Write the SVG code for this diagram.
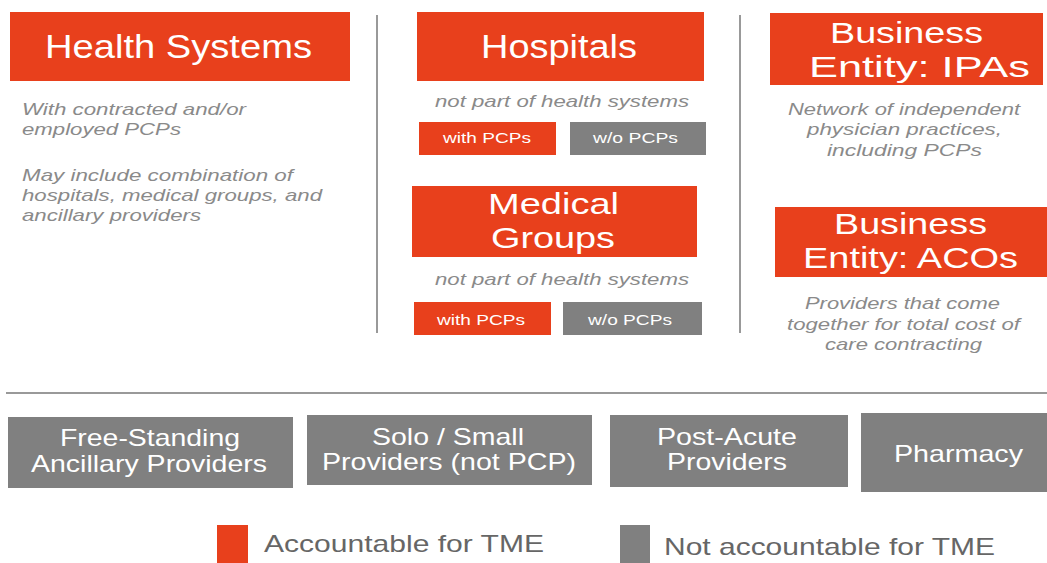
<svg xmlns="http://www.w3.org/2000/svg" width="1047" height="563" viewBox="0 0 1047 563">
<style>
.acc{fill:#E8401C}
.not{fill:#808080}
.t{font-family:"Liberation Sans",Arial,sans-serif;fill:#fff}
.big{font-size:33px}
.two{font-size:30px}
.btm{font-size:24px}
.sm{font-size:14px}
.d{font-family:"Liberation Sans",Arial,sans-serif;font-style:italic;font-size:17px;fill:#8a8a8a}
.leg{font-family:"Liberation Sans",Arial,sans-serif;font-size:24px;fill:#666}
.div{stroke:#999;stroke-width:2}
</style>
<rect width="1047" height="563" fill="#fff"/>
<g id="dividers">
<line class="div" x1="377" y1="15" x2="377" y2="333"/>
<line class="div" x1="740" y1="15" x2="740" y2="333"/>
<line class="div" x1="6" y1="393" x2="1047" y2="393"/>
</g>
<g id="health-systems">
<rect class="acc" x="10" y="12" width="340" height="69"/>
<text class="t big" x="45" y="58" textLength="267" lengthAdjust="spacingAndGlyphs">Health Systems</text>
<text class="d" x="22" y="115" textLength="224" lengthAdjust="spacingAndGlyphs">With contracted and/or</text>
<text class="d" x="22" y="135" textLength="159" lengthAdjust="spacingAndGlyphs">employed PCPs</text>
<text class="d" x="22" y="181" textLength="271" lengthAdjust="spacingAndGlyphs">May include combination of</text>
<text class="d" x="22" y="201" textLength="300" lengthAdjust="spacingAndGlyphs">hospitals, medical groups, and</text>
<text class="d" x="22" y="221" textLength="179" lengthAdjust="spacingAndGlyphs">ancillary providers</text>
</g>
<g id="hospitals">
<rect class="acc" x="417" y="12" width="287" height="69"/>
<text class="t big" x="481" y="58" textLength="156" lengthAdjust="spacingAndGlyphs">Hospitals</text>
<text class="d" x="435" y="107" textLength="254" lengthAdjust="spacingAndGlyphs">not part of health systems</text>
</g>
<g id="hospitals-with-pcps">
<rect class="acc" x="419" y="122" width="137" height="33"/>
<text class="t sm" x="443" y="143" textLength="88" lengthAdjust="spacingAndGlyphs">with PCPs</text>
</g>
<g id="hospitals-wo-pcps">
<rect class="not" x="570" y="122" width="136" height="33"/>
<text class="t sm" x="593" y="143" textLength="85" lengthAdjust="spacingAndGlyphs">w/o PCPs</text>
</g>
<g id="medical-groups">
<rect class="acc" x="412" y="186" width="285" height="71"/>
<text class="t two" x="488" y="214" textLength="131" lengthAdjust="spacingAndGlyphs">Medical</text>
<text class="t two" x="491" y="248" textLength="124" lengthAdjust="spacingAndGlyphs">Groups</text>
<text class="d" x="435" y="285" textLength="254" lengthAdjust="spacingAndGlyphs">not part of health systems</text>
</g>
<g id="medical-with-pcps">
<rect class="acc" x="414" y="302" width="137" height="33"/>
<text class="t sm" x="437" y="325" textLength="88" lengthAdjust="spacingAndGlyphs">with PCPs</text>
</g>
<g id="medical-wo-pcps">
<rect class="not" x="563" y="302" width="139" height="33"/>
<text class="t sm" x="588" y="325" textLength="84" lengthAdjust="spacingAndGlyphs">w/o PCPs</text>
</g>
<g id="ipas">
<rect class="acc" x="770" y="13" width="273" height="72"/>
<text class="t two" x="830" y="43" textLength="153" lengthAdjust="spacingAndGlyphs">Business</text>
<text class="t two" x="809" y="77" textLength="221" lengthAdjust="spacingAndGlyphs">Entity: IPAs</text>
<text class="d" x="788" y="115" textLength="232" lengthAdjust="spacingAndGlyphs">Network of independent</text>
<text class="d" x="807" y="135" textLength="195" lengthAdjust="spacingAndGlyphs">physician practices,</text>
<text class="d" x="827" y="156" textLength="155" lengthAdjust="spacingAndGlyphs">including PCPs</text>
</g>
<g id="acos">
<rect class="acc" x="775" y="207" width="272" height="70"/>
<text class="t two" x="834" y="234" textLength="153" lengthAdjust="spacingAndGlyphs">Business</text>
<text class="t two" x="803" y="268" textLength="215" lengthAdjust="spacingAndGlyphs">Entity: ACOs</text>
<text class="d" x="805" y="309" textLength="195" lengthAdjust="spacingAndGlyphs">Providers that come</text>
<text class="d" x="787" y="330" textLength="233" lengthAdjust="spacingAndGlyphs">together for total cost of</text>
<text class="d" x="825" y="350" textLength="157" lengthAdjust="spacingAndGlyphs">care contracting</text>
</g>
<g id="free-standing">
<rect class="not" x="8" y="417" width="285" height="71"/>
<text class="t btm" x="60" y="446" textLength="180" lengthAdjust="spacingAndGlyphs">Free-Standing</text>
<text class="t btm" x="31" y="472" textLength="236" lengthAdjust="spacingAndGlyphs">Ancillary Providers</text>
</g>
<g id="solo-small">
<rect class="not" x="307" y="415" width="285" height="70"/>
<text class="t btm" x="372" y="445" textLength="152" lengthAdjust="spacingAndGlyphs">Solo / Small</text>
<text class="t btm" x="322" y="470" textLength="254" lengthAdjust="spacingAndGlyphs">Providers (not PCP)</text>
</g>
<g id="post-acute">
<rect class="not" x="610" y="415" width="238" height="72"/>
<text class="t btm" x="657" y="445" textLength="140" lengthAdjust="spacingAndGlyphs">Post-Acute</text>
<text class="t btm" x="667" y="470" textLength="120" lengthAdjust="spacingAndGlyphs">Providers</text>
</g>
<g id="pharmacy">
<rect class="not" x="861" y="413" width="186" height="79"/>
<text class="t btm" x="894" y="462" textLength="129" lengthAdjust="spacingAndGlyphs">Pharmacy</text>
</g>
<g id="legend">
<rect class="acc" x="217" y="525" width="31" height="38"/>
<text class="leg" x="264" y="552" textLength="280" lengthAdjust="spacingAndGlyphs">Accountable for TME</text>
<rect class="not" x="620" y="525" width="30" height="38"/>
<text class="leg" x="664" y="555" textLength="331" lengthAdjust="spacingAndGlyphs">Not accountable for TME</text>
</g>
<g id="connectors"></g>
</svg>
